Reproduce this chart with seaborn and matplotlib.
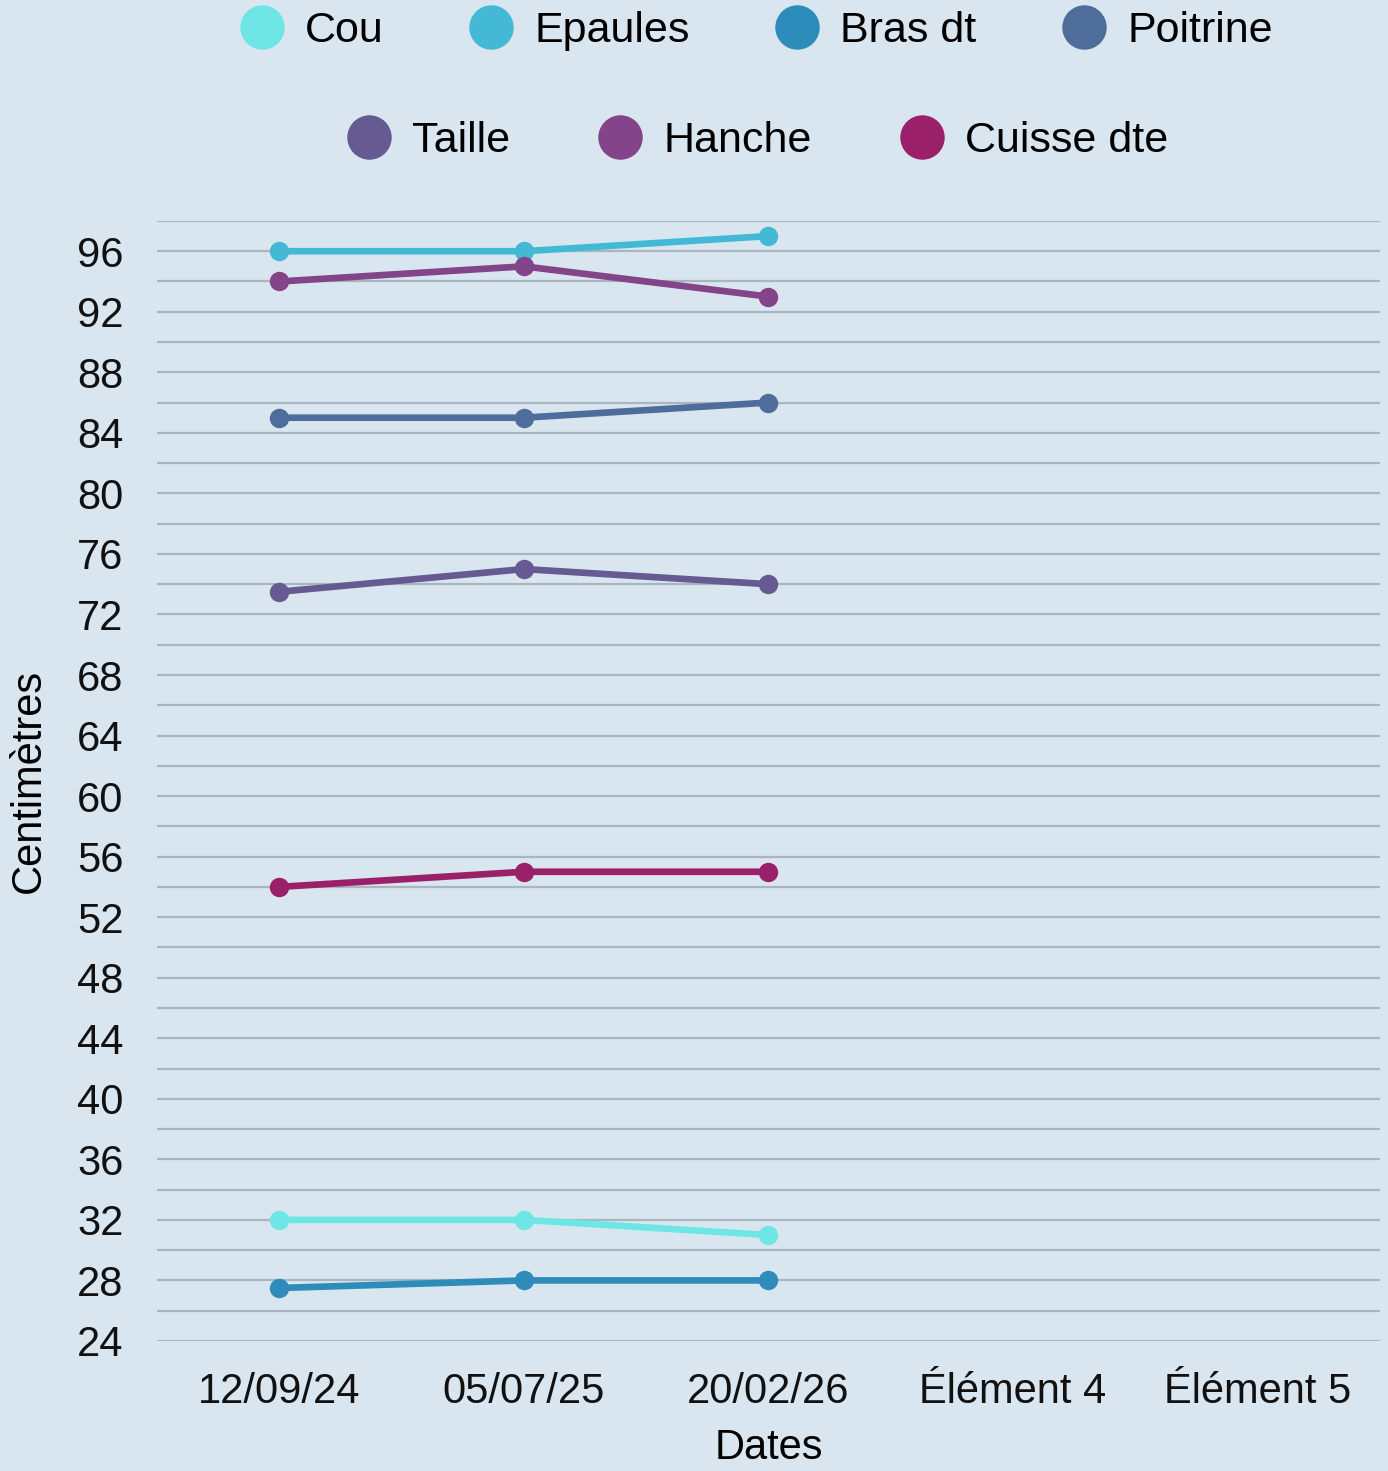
import seaborn as sns
import matplotlib.pyplot as plt
import pandas as pd
import numpy as np
from matplotlib.lines import Line2D

dates = ["12/09/24", "05/07/25", "20/02/26", "Élément 4", "Élément 5"]
series = ["Cou", "Epaules", "Bras dt", "Poitrine", "Taille", "Hanche", "Cuisse dte"]

cou = [32, 32, 31]
epaules = [96, 96, 97]
bras_dt = [27.5, 28, 28]
poitrine = [85, 85, 86]
taille = [73.5, 75, 74]
hanche = [94, 95, 93]
cuisse_dte = [54, 55, 55]

colors = ["#6ee6e6", "#44b9d6", "#2e8cbb", "#4f6d9a", "#655a91", "#83448a", "#9a2169"]

values = [cou, epaules, bras_dt, poitrine, taille, hanche, cuisse_dte]
rows = []
for name, vals in zip(series, values):
    for i, v in enumerate(vals):
        rows.append({"x": i, "Mesure": name, "cm": v})
df = pd.DataFrame(rows)

bg = "#d9e6ef"
plt.rcParams["font.family"] = ["Liberation Sans", "DejaVu Sans"]

fig = plt.figure(figsize=(13.88, 14.71), dpi=100, facecolor=bg)
ax = fig.add_axes([0.1131, 0.0884, 0.8811, 0.7614])
ax.set_facecolor(bg)

sns.lineplot(
    data=df, x="x", y="cm", hue="Mesure", hue_order=series,
    palette=colors, marker="o", markersize=14, markeredgewidth=0,
    linewidth=4.8, legend=False, ax=ax, zorder=3,
)

ax.set_xlim(-0.5, len(dates) - 0.5)
ax.set_xticks(range(len(dates)))
ax.set_xticklabels(dates)
ax.set_ylim(24, 98)
ax.set_yticks(np.arange(24, 97, 4))
ax.set_yticks(np.arange(26, 99, 4), minor=True)
ax.grid(axis="y", which="both", color="#a9b5bf", linewidth=1.6)
ax.grid(axis="x", visible=False)
ax.set_axisbelow(True)
for s in ax.spines.values():
    s.set_visible(False)
ax.tick_params(axis="both", which="both", length=0, labelsize=30, colors="#111111")
ax.tick_params(axis="y", pad=24)
ax.tick_params(axis="x", pad=22)
ax.set_xlabel("Dates", fontsize=30, labelpad=12)
ax.set_ylabel("Centimètres", fontsize=30, labelpad=20)

def handles(names, cols):
    return [Line2D([], [], marker="o", linestyle="", markersize=32,
                   markerfacecolor=c, markeredgewidth=0, label=n)
            for n, c in zip(names, cols)]

leg1 = fig.legend(handles=handles(series[:4], colors[:4]), loc="center",
                  bbox_to_anchor=(0.545, 0.979), ncol=4, frameon=False,
                  fontsize=31, handletextpad=0.5, columnspacing=2.0,
                  handlelength=1.0)
leg2 = fig.legend(handles=handles(series[4:], colors[4:]), loc="center",
                  bbox_to_anchor=(0.546, 0.904), ncol=3, frameon=False,
                  fontsize=31, handletextpad=0.5, columnspacing=2.05,
                  handlelength=1.0)

fig.savefig("out.png", dpi=100, facecolor=bg)
